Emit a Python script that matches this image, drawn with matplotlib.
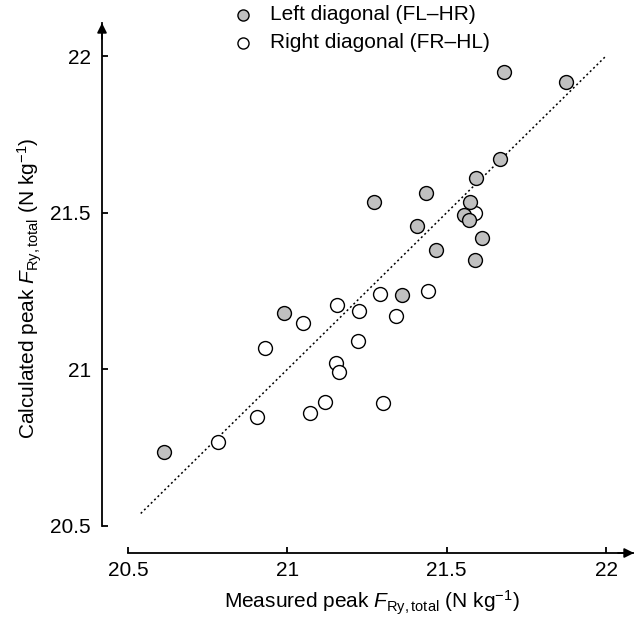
import numpy as np
import matplotlib
matplotlib.use('Agg')
import matplotlib.pyplot as plt
from matplotlib.ticker import FormatStrFormatter

plt.rcParams['font.family'] = ['Liberation Sans', 'DejaVu Sans']
plt.rcParams['mathtext.fontset'] = 'custom'
plt.rcParams['mathtext.rm'] = 'Liberation Sans'
plt.rcParams['mathtext.it'] = 'Liberation Sans:italic'
plt.rcParams['font.size'] = 15

# left diagonal (FL-HR), grey circles
left_meas = [21.681, 21.873, 21.667, 21.591, 21.436, 21.273, 21.573, 21.554,
             21.569, 21.408, 21.610, 21.465, 21.589, 21.359, 20.989, 20.613]
left_calc = [21.950, 21.918, 21.670, 21.610, 21.562, 21.533, 21.535, 21.493,
             21.477, 21.459, 21.418, 21.381, 21.348, 21.236, 21.180, 20.736]

# right diagonal (FR-HL), open circles
right_meas = [21.589, 21.292, 21.442, 21.156, 21.226, 21.048, 21.340, 20.929,
              21.221, 21.152, 21.163, 21.119, 21.300, 21.071, 20.905, 20.782]
right_calc = [21.498, 21.240, 21.249, 21.205, 21.185, 21.149, 21.170, 21.067,
              21.090, 21.019, 20.992, 20.895, 20.894, 20.862, 20.849, 20.767]

ticks = [20.5, 21, 21.5, 22]
line_range = [20.54, 22.0]

fig = plt.figure(figsize=(6.34, 6.19), dpi=100)
ax = fig.add_axes([102 / 634, 66 / 619, 532 / 634, 530 / 619])

xlo = 20.5 - 26 / 318.7
xhi = 22.0 + 28 / 318.7
ylo = 20.5 - 27 / 313.3
yhi = 22.0 + 33 / 313.3
ax.set_xlim(xlo, xhi)
ax.set_ylim(ylo, yhi)

ax.plot(line_range, line_range, color='k', lw=1.1, linestyle=(0, (1.3, 1.8)), zorder=1)

ax.scatter(right_meas, right_calc, s=100, facecolor='white', edgecolor='k',
           linewidth=1.0, zorder=2, label='Right diagonal (FR\u2013HL)')
ax.scatter(left_meas, left_calc, s=100, facecolor='#c0c0c0', edgecolor='k',
           linewidth=1.0, zorder=3, label='Left diagonal (FL\u2013HR)')

for side in ['top', 'right']:
    ax.spines[side].set_visible(False)
ax.spines['left'].set_bounds(20.5, yhi)
ax.spines['bottom'].set_bounds(20.5, xhi)
ax.spines['left'].set_linewidth(1.3)
ax.spines['bottom'].set_linewidth(1.3)

# arrow heads on the axes
ax.annotate('', xy=(0, 1), xytext=(0, 0.97), xycoords='axes fraction',
            arrowprops=dict(arrowstyle='-|>', color='k', lw=1.3,
                            mutation_scale=14, shrinkA=0, shrinkB=0))
ax.annotate('', xy=(1, 0), xytext=(0.97, 0), xycoords='axes fraction',
            arrowprops=dict(arrowstyle='-|>', color='k', lw=1.3,
                            mutation_scale=14, shrinkA=0, shrinkB=0),
            annotation_clip=False)

ax.set_xticks(ticks)
ax.set_yticks(ticks)
ax.xaxis.set_major_formatter(FormatStrFormatter('%g'))
ax.yaxis.set_major_formatter(FormatStrFormatter('%g'))
ax.tick_params(direction='in', length=4, width=1.3)
ax.tick_params(axis='x', pad=6)
ax.tick_params(axis='y', pad=8)

ax.set_xlabel('Measured peak $\\mathit{F}_{\\mathrm{Ry,total}}$ (N kg$^{-1}$)')
ax.set_ylabel('Calculated peak $\\mathit{F}_{\\mathrm{Ry,total}}$ (N kg$^{-1}$)', labelpad=4.5)
ax.xaxis.set_label_coords(0.508, -0.094)
ax.xaxis.label.set_va('center')

h, l = ax.get_legend_handles_labels()
leg = fig.legend(h[::-1], l[::-1], loc='upper left', bbox_to_anchor=(230 / 634, 1 - 5 / 619),
                 frameon=False, handlelength=1.2, handletextpad=0.7, labelspacing=0.45,
                 markerscale=0.8, borderaxespad=0.0, borderpad=0.0)

fig.savefig('out.png', dpi=100)
